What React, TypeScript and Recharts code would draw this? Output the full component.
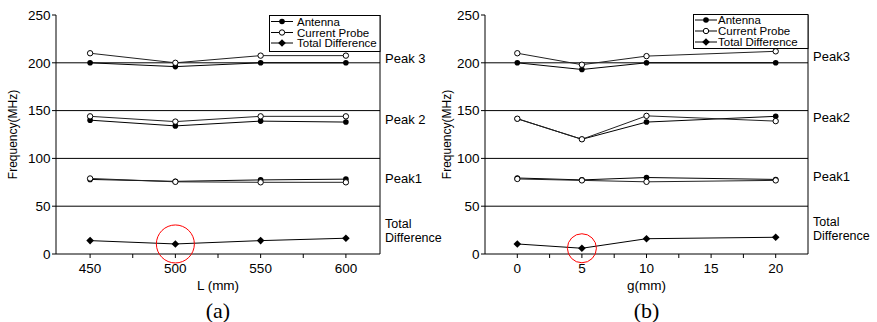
import React from 'react';
import { LineChart, Line, XAxis, YAxis, ReferenceLine, ReferenceDot, Legend } from 'recharts';

// ---------- data ----------
const lengthValues = [450, 500, 550, 600];
const gapValues = [0, 5, 10, 20];

// panel (a): frequency vs L (mm)
const antennaPeak3L = [200, 196, 200, 200];
const probePeak3L = [210, 200, 207.5, 207.5];
const antennaPeak2L = [140, 134, 139, 138];
const probePeak2L = [144, 138.5, 144, 144];
const antennaPeak1L = [78, 76, 77.5, 78.3];
const probePeak1L = [79, 75.5, 75, 75];
const totalDiffL = [14, 10.5, 14, 16.5];

// panel (b): frequency vs g (mm)
const antennaPeak3G = [200, 193, 200, 200];
const probePeak3G = [210, 198, 207, 212];
const antennaPeak2G = [141.5, 120, 138, 144];
const probePeak2G = [141.5, 120, 144.5, 139];
const antennaPeak1G = [79.5, 77.5, 80, 78];
const probePeak1G = [78.5, 77, 75.5, 77];
const totalDiffG = [10.5, 6, 16, 17.5];

const seriesNames = ['Antenna', 'Current Probe', 'Total Difference'];
const yMajorTicks = [0, 50, 100, 150, 200, 250];
const yMinorTicks = [25, 75, 125, 175, 225];
const yAllTicks = [0, 25, 50, 75, 100, 125, 150, 175, 200, 225, 250];
const bandLines = [50, 100, 150, 200];

const xMajorL = [450, 500, 550, 600];
const xAllL = [450, 475, 500, 525, 550, 575, 600];
const xMajorG = [0, 5, 10, 15, 20];
const xAllG = [0, 2.5, 5, 7.5, 10, 12.5, 15, 17.5, 20];

const peakNamesL = [['Peak 3'], ['Peak 2'], ['Peak1'], ['Total', 'Difference']];
const peakNamesG = [['Peak3'], ['Peak2'], ['Peak1'], ['Total', 'Difference']];
const peakLabelValuesL = [204, 141, 79, 24];
const peakLabelValuesG = [207, 143, 81, 26];

const FONT = '"Liberation Sans", Arial, Helvetica, sans-serif';
const SERIF = '"Liberation Serif", "Times New Roman", serif';

// ---------- markers ----------
const FilledDot = (p: any) =>
  p.cx == null ? null : <circle key={p.key} cx={p.cx} cy={p.cy} r={2.8} fill="#000" />;
const OpenDot = (p: any) =>
  p.cx == null ? null : (
    <circle key={p.key} cx={p.cx} cy={p.cy} r={2.7} fill="#fff" stroke="#000" strokeWidth={1} />
  );
const DiamondDot = (p: any) =>
  p.cx == null ? null : (
    <polygon
      key={p.key}
      points={`${p.cx},${p.cy - 3.8} ${p.cx + 3.8},${p.cy} ${p.cx},${p.cy + 3.8} ${p.cx - 3.8},${p.cy}`}
      fill="#000"
    />
  );

const LegendBox = ({ w, h, rows, textX }: any) => (
  <svg width={w} height={h} style={{ display: 'block' }}>
    <rect x={0.5} y={0.5} width={w - 1} height={h - 1} fill="#fff" stroke="#000" strokeWidth={1} />
    {seriesNames.map((name, i) => {
      const y = rows[i];
      const cx = 13;
      return (
        <g key={name}>
          <line x1={2} x2={24} y1={y} y2={y} stroke="#000" strokeWidth={1} />
          {i === 0 && <circle cx={cx} cy={y} r={2.8} fill="#000" />}
          {i === 1 && <circle cx={cx} cy={y} r={2.7} fill="#fff" stroke="#000" />}
          {i === 2 && (
            <polygon points={`${cx},${y - 3.8} ${cx + 3.8},${y} ${cx},${y + 3.8} ${cx - 3.8},${y}`} fill="#000" />
          )}
          <text x={textX} y={y} dominantBaseline="central" fontSize={11.5} fontFamily={FONT} fill="#000">
            {name}
          </text>
        </g>
      );
    })}
  </svg>
);

const PeakLabel = (props: any) => {
  const { viewBox, lines } = props;
  if (!viewBox) return null;
  const x = viewBox.x + 5;
  const cy = viewBox.y;
  const lh = 14.5;
  const multi = lines.length > 1;
  const start = cy - ((lines.length - 1) * lh) / 2;
  return (
    <g>
      {lines.map((t: string, i: number) => (
        <text
          key={i}
          x={x}
          y={start + i * lh}
          dominantBaseline="central"
          fontSize={multi ? 12.5 : 13}
          fontFamily={FONT}
          fill="#000"
        >
          {t}
        </text>
      ))}
    </g>
  );
};

const makeXTick = (majors: number[]) => (props: any) => {
  const { x, y, payload } = props;
  if (!majors.includes(payload.value)) return <g />;
  return (
    <text x={x} y={y} dy="0.71em" textAnchor="middle" fontSize={13.5} fontFamily={FONT} fill="#000">
      {payload.value}
    </text>
  );
};

type PanelProps = {
  left: number;
  width: number;
  yAxisWidth: number;
  rightWidth: number;
  xValues: number[];
  xDomain: [number, number];
  xMajor: number[];
  xAll: number[];
  xLabel: string;
  caption: string;
  antenna: number[][];
  probe: number[][];
  diff: number[];
  peakNames: string[][];
  peakValues: number[];
  highlight: number;
  highlightR: number;
  legendLeft: number;
  legendTop: number;
  legendH: number;
  legendRows: number[];
  legendTextX: number;
  yLabelX: number;
};

const Panel = (p: PanelProps) => {
  const data = p.xValues.map((x, i) => ({
    x,
    a3: p.antenna[0][i],
    p3: p.probe[0][i],
    a2: p.antenna[1][i],
    p2: p.probe[1][i],
    a1: p.antenna[2][i],
    p1: p.probe[2][i],
    d: p.diff[i],
  }));
  const plotLeft = p.yAxisWidth;
  const plotRight = p.width - p.rightWidth;
  const plotCenter = (plotLeft + plotRight) / 2;
  const tickStyle = { fontSize: 13.5, fontFamily: FONT, fill: '#000' };
  return (
    <div style={{ position: 'absolute', left: p.left, top: 0, width: p.width, height: 322 }}>
      <LineChart width={p.width} height={322} data={data} margin={{ top: 15, right: 0, bottom: 0, left: 0 }}>
        <XAxis
          dataKey="x"
          type="number"
          domain={p.xDomain}
          ticks={p.xAll}
          interval={0}
          height={68}
          tickSize={4}
          tickMargin={5.5}
          stroke="#000"
          tick={makeXTick(p.xMajor)}
          allowDataOverflow
          label={(lp: any) => {
            const vb = lp.viewBox;
            return (
              <text
                x={vb.x + vb.width / 2}
                y={vb.y + 36}
                textAnchor="middle"
                fontSize={13.5}
                fontFamily={FONT}
                fill="#000"
              >
                {p.xLabel}
              </text>
            );
          }}
        />
        <XAxis
          xAxisId="top"
          orientation="top"
          mirror
          type="number"
          dataKey="x"
          domain={p.xDomain}
          ticks={p.xAll}
          interval={0}
          tick={false}
          tickSize={3}
          height={0}
          stroke="#000"
          allowDataOverflow
        />
        <YAxis
          type="number"
          domain={[0, 250]}
          ticks={yMajorTicks}
          interval={0}
          width={p.yAxisWidth}
          tickSize={4}
          tickMargin={1.5}
          stroke="#000"
          tick={tickStyle}
          allowDataOverflow
          label={(lp: any) => {
            const vb = lp.viewBox;
            const cx = p.yLabelX;
            const cy = vb.y + vb.height / 2;
            return (
              <text
                x={cx}
                y={cy}
                transform={`rotate(-90 ${cx} ${cy})`}
                textAnchor="middle"
                dominantBaseline="central"
                fontSize={12}
                fontFamily={FONT}
                fill="#000"
              >
                Frequency(MHz)
              </text>
            );
          }}
        />
        <YAxis
          yAxisId="minor"
          orientation="left"
          mirror
          type="number"
          domain={[0, 250]}
          ticks={yMinorTicks}
          interval={0}
          tick={false}
          tickSize={3}
          axisLine={false}
          stroke="#000"
          width={p.yAxisWidth}
        />
        <YAxis
          yAxisId="right"
          orientation="right"
          type="number"
          domain={[0, 250]}
          ticks={yAllTicks}
          interval={0}
          tick={false}
          tickSize={3}
          width={p.rightWidth}
          stroke="#000"
        />
        {bandLines.map((v) => (
          <ReferenceLine key={v} y={v} stroke="#000" strokeWidth={1} />
        ))}
        <Line dataKey="a3" stroke="#000" strokeWidth={1} dot={FilledDot} isAnimationActive={false} />
        <Line dataKey="p3" stroke="#222" strokeWidth={1} dot={OpenDot} isAnimationActive={false} />
        <Line dataKey="a2" stroke="#000" strokeWidth={1} dot={FilledDot} isAnimationActive={false} />
        <Line dataKey="p2" stroke="#222" strokeWidth={1} dot={OpenDot} isAnimationActive={false} />
        <Line dataKey="a1" stroke="#000" strokeWidth={1} dot={FilledDot} isAnimationActive={false} />
        <Line dataKey="p1" stroke="#222" strokeWidth={1} dot={OpenDot} isAnimationActive={false} />
        <Line dataKey="d" stroke="#000" strokeWidth={1} dot={DiamondDot} isAnimationActive={false} />
        <ReferenceDot
          x={p.xValues[p.highlight]}
          y={p.diff[p.highlight]}
          r={p.highlightR}
          fill="none"
          stroke="#ff0000"
          strokeWidth={1}
          ifOverflow="visible"
        />
        {p.peakValues.map((v, i) => (
          <ReferenceDot
            key={i}
            x={p.xDomain[1]}
            y={v}
            r={0}
            fill="none"
            stroke="none"
            ifOverflow="visible"
            label={<PeakLabel lines={p.peakNames[i]} />}
          />
        ))}
        <Legend
          layout="horizontal"
          verticalAlign="middle"
          align="center"
          wrapperStyle={{ left: p.legendLeft, top: p.legendTop, width: plotRight - p.legendLeft, height: p.legendH }}
          content={() => (
            <LegendBox w={plotRight - p.legendLeft + 0.5} h={p.legendH} rows={p.legendRows} textX={p.legendTextX} />
          )}
        />
      </LineChart>
      <div
        style={{
          position: 'absolute',
          left: plotCenter - 50,
          width: 100,
          top: 300,
          textAlign: 'center',
          fontFamily: SERIF,
          fontSize: 22,
          lineHeight: '22px',
          color: '#000',
        }}
      >
        {p.caption}
      </div>
    </div>
  );
};

export default function App() {
  return (
    <div style={{ position: 'absolute', left: 0, top: 0, width: 877, height: 322, background: '#fff', overflow: 'hidden' }}>
      <Panel
        left={0}
        width={460}
        yAxisWidth={56}
        rightWidth={80}
        xValues={lengthValues}
        xDomain={[430, 620]}
        xMajor={xMajorL}
        xAll={xAllL}
        xLabel="L (mm)"
        caption="(a)"
        antenna={[antennaPeak3L, antennaPeak2L, antennaPeak1L]}
        probe={[probePeak3L, probePeak2L, probePeak1L]}
        diff={totalDiffL}
        peakNames={peakNamesL}
        peakValues={peakLabelValuesL}
        highlight={1}
        highlightR={19}
        legendLeft={269}
        legendTop={15}
        legendH={37}
        legendRows={[6.5, 17.5, 28]}
        legendTextX={28}
        yLabelX={13}
      />
      <Panel
        left={440}
        width={437}
        yAxisWidth={45}
        rightWidth={69}
        xValues={gapValues}
        xDomain={[-2.5, 22.5]}
        xMajor={xMajorG}
        xAll={xAllG}
        xLabel="g(mm)"
        caption="(b)"
        antenna={[antennaPeak3G, antennaPeak2G, antennaPeak1G]}
        probe={[probePeak3G, probePeak2G, probePeak1G]}
        diff={totalDiffG}
        peakNames={peakNamesG}
        peakValues={peakLabelValuesG}
        highlight={1}
        highlightR={14.5}
        legendLeft={253}
        legendTop={14}
        legendH={35}
        legendRows={[6, 17, 28]}
        legendTextX={25}
        yLabelX={7}
      />
    </div>
  );
}
